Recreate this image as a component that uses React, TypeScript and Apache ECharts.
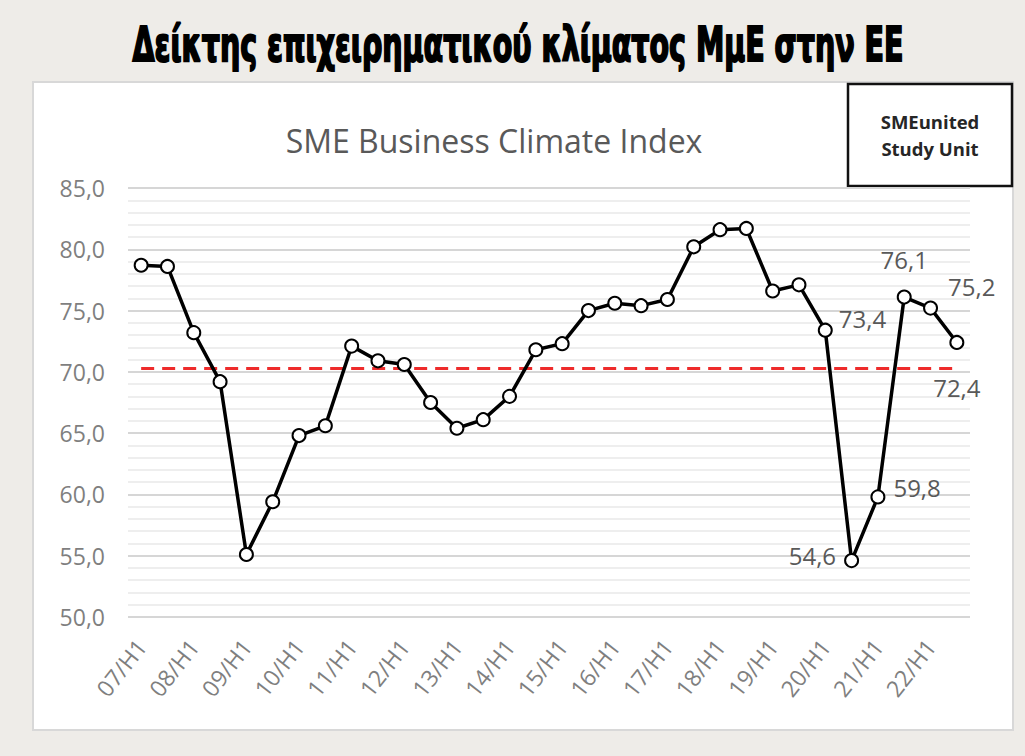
import React, { useEffect, useRef } from "react";
import * as echarts from "echarts";

const categories: string[] = [
  "07/H1", "07/H2", "08/H1", "08/H2", "09/H1", "09/H2", "10/H1", "10/H2",
  "11/H1", "11/H2", "12/H1", "12/H2", "13/H1", "13/H2", "14/H1", "14/H2",
  "15/H1", "15/H2", "16/H1", "16/H2", "17/H1", "17/H2", "18/H1", "18/H2",
  "19/H1", "19/H2", "20/H1", "20/H2", "21/H1", "21/H2", "22/H1", "22/H2",
];

const indexValues: number[] = [
  78.7, 78.6, 73.2, 69.2, 55.1, 59.4, 64.8, 65.6,
  72.1, 70.9, 70.6, 67.5, 65.4, 66.1, 68.0, 71.8,
  72.3, 75.0, 75.6, 75.4, 75.9, 80.2, 81.6, 81.7,
  76.6, 77.1, 73.4, 54.6, 59.8, 76.1, 75.2, 72.4,
];

const averageLevel: number[] = [70.3, 70.3];

const yTicks = { min: 50, max: 85, step: 5 };

const mainTitle = "Δείκτης επιχειρηματικού κλίματος ΜμΕ στην ΕΕ";
const chartTitle = "SME Business Climate Index";
const sourceBox = "SMEunited\nStudy Unit";

const fmt = (v: number) => v.toFixed(1).replace(".", ",");

const labelStyles: Record<number, any> = {
  26: { position: "right", offset: [0, -12], distance: 6 },
  27: { position: "left", offset: [0, -5], distance: 8 },
  28: { position: "right", offset: [0, -9], distance: 8 },
  29: { position: "top", distance: 18 },
  30: { position: "right", offset: [4, -22], distance: 6 },
  31: { position: "bottom", distance: 26 },
};

export default function App() {
  const ref = useRef<HTMLDivElement>(null);
  useEffect(() => {
    if (!ref.current) return;
    const chart = echarts.init(ref.current, null, { renderer: "svg" });
    const data = indexValues.map((v, i) => {
      const ls = labelStyles[i];
      if (!ls) return v;
      return {
        value: v,
        label: {
          show: true,
          formatter: (p: any) => fmt(p.value),
          color: "#595959",
          fontSize: 24,
          fontFamily: "Open Sans",
          ...ls,
        },
      };
    });
    chart.setOption({
      animation: false,
      backgroundColor: "transparent",
      grid: { left: 128, right: 55, top: 188, bottom: 139 },
      xAxis: {
        type: "category",
        data: categories,
        boundaryGap: true,
        axisLine: { show: false },
        axisTick: { show: false },
        splitLine: { show: false },
        axisLabel: {
          interval: 1,
          rotate: 52,
          margin: 25,
          color: "#7f7f7f",
          fontSize: 23,
          fontFamily: "Open Sans",
        },
      },
      yAxis: {
        type: "value",
        min: yTicks.min,
        max: yTicks.max,
        interval: yTicks.step,
        axisLine: { show: false },
        axisTick: { show: false },
        axisLabel: {
          formatter: (v: number) => fmt(v),
          color: "#7f7f7f",
          fontSize: 23,
          fontFamily: "Open Sans",
          margin: 23,
        },
        splitLine: { lineStyle: { color: "#d6d6d6", width: 2 } },
        minorTick: { show: false, splitNumber: 5 },
        minorSplitLine: { show: true, lineStyle: { color: "#e8e8e8", width: 1.5 } },
      },
      series: [
        {
          type: "line",
          data,
          symbol: "circle",
          symbolSize: 13,
          z: 5,
          lineStyle: { color: "#000", width: 3.5 },
          itemStyle: { color: "#fff", borderColor: "#000", borderWidth: 2 },
          markLine: {
            silent: true,
            symbol: "none",
            label: { show: false },
            lineStyle: { color: "#ee2b2b", width: 3, type: [13, 8] },
            data: [
              [
                { coord: [0, averageLevel[0]] },
                { coord: [categories.length - 1, averageLevel[1]] },
              ],
            ],
          },
        },
      ],
      graphic: [
        {
          type: "text",
          x: 518,
          y: 44,
          scaleX: 0.66,
          style: {
            text: mainTitle,
            font: "bold 48px 'DejaVu Sans Condensed', 'DejaVu Sans'",
            fill: "#000",
            stroke: "#000",
            lineWidth: 2,
            textAlign: "center",
            textVerticalAlign: "middle",
          },
        },
        {
          type: "text",
          x: 494,
          y: 140,
          style: {
            text: chartTitle,
            font: "32px 'Open Sans'",
            fill: "#595959",
            textAlign: "center",
            textVerticalAlign: "middle",
          },
        },
        {
          type: "rect",
          shape: { x: 848, y: 84, width: 164, height: 102 },
          style: { fill: "#fff", stroke: "#111", lineWidth: 2.5 },
        },
        {
          type: "text",
          x: 930,
          y: 135,
          style: {
            text: sourceBox,
            font: "bold 18.5px 'Open Sans'",
            lineHeight: 27,
            fill: "#262626",
            textAlign: "center",
            textVerticalAlign: "middle",
          },
        },
      ],
    });
    return () => chart.dispose();
  }, []);
  return (
    <div
      style={{
        position: "absolute",
        left: 0,
        top: 0,
        width: 1025,
        height: 756,
        background: "#eeece8",
      }}
    >
      <div
        style={{
          position: "absolute",
          left: 32,
          top: 81,
          width: 978,
          height: 646,
          background: "#fff",
          border: "2px solid #d8d8d8",
        }}
      />
      <div
        ref={ref}
        style={{ position: "absolute", left: 0, top: 0, width: 1025, height: 756 }}
      />
    </div>
  );
}
